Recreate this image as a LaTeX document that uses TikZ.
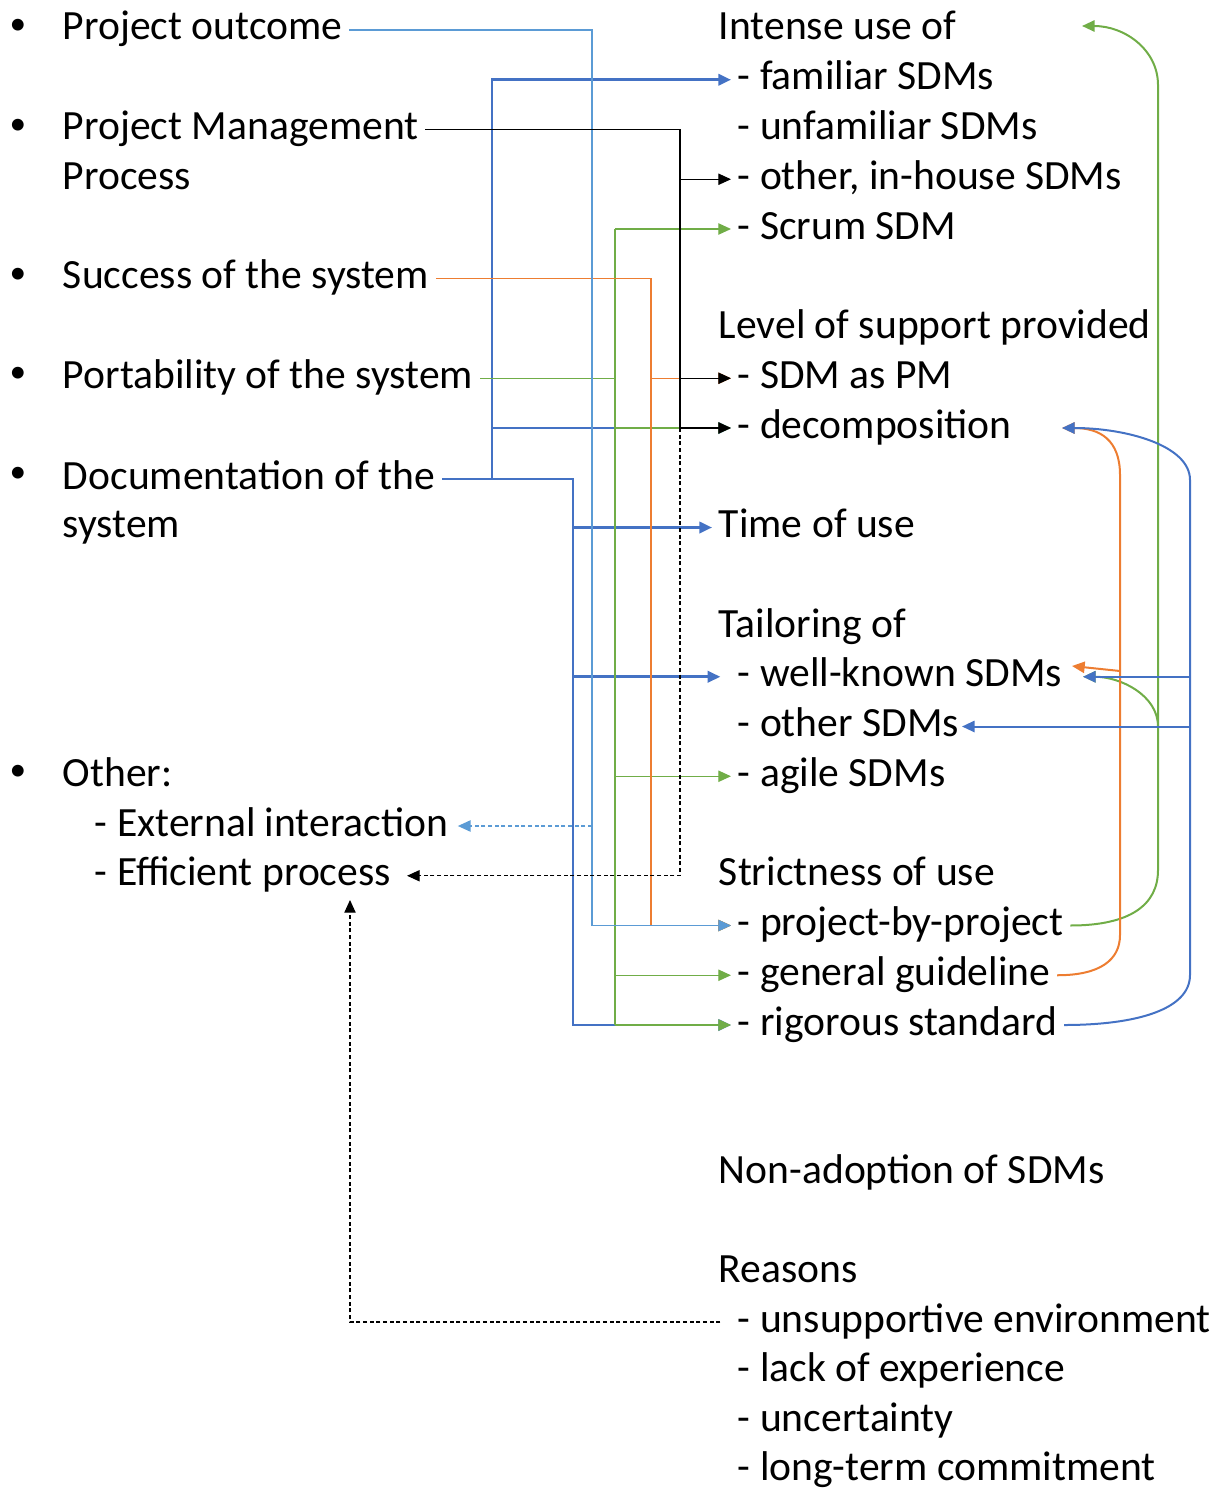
\documentclass[tikz,border=0pt]{standalone}
\usepackage{fontspec}
\setmainfont{Carlito}
\usetikzlibrary{arrows.meta}

\definecolor{cblue}{HTML}{4472C4}
\definecolor{clight}{HTML}{5B9BD5}
\definecolor{corange}{HTML}{ED7D31}
\definecolor{cgreen}{HTML}{70AD47}

\tikzset{
  txt/.style={anchor=west, inner xsep=5pt, inner ysep=0pt, text height=15pt, text depth=0pt},
  bulletmark/.style={anchor=center, inner sep=0pt, scale=0.8},
  tip/.style={-{Triangle[length=9.5pt,width=8.5pt]}},
  dashline/.style={dash pattern=on 3pt off 2pt},
  bluethick/.style={draw=cblue, line width=2pt},
  greenthin/.style={draw=cgreen, line width=0.9pt},
  orangethin/.style={draw=corange, line width=0.9pt},
  lightthin/.style={draw=clight, line width=0.9pt},
  blackthin/.style={draw=black, line width=0.8pt},
  blueright/.style={draw=cblue, line width=1.5pt},
  greenright/.style={draw=cgreen, line width=1.5pt},
  orangeright/.style={draw=corange, line width=1.5pt},
}

\begin{document}
\begin{tikzpicture}[x=0.75pt,y=0.75pt,yscale=-1,xscale=1,font=\fontsize{31.2pt}{37pt}\selectfont]
\useasboundingbox (0,0) rectangle (1222,1488);

% Bullets
\node[bulletmark] (bl1) at (18,27) {\textbullet};
\node[bulletmark] (bl2) at (18,126.5) {\textbullet};
\node[bulletmark] (bl3) at (18,275.75) {\textbullet};
\node[bulletmark] (bl4) at (18,375.25) {\textbullet};
\node[bulletmark] (bl5) at (18,474.75) {\textbullet};
\node[bulletmark] (bl6) at (18,773.25) {\textbullet};

% Text Node, left column
\node[txt] (po) at (56,30) {Project outcome};
\node[txt] (pm) at (56,129.5) {Project Management};
\node[txt] (pmb) at (56,179.25) {Process};
\node[txt] (suc) at (56,278.75) {Success of the system};
\node[txt] (port) at (56,378.25) {Portability of the system};
\node[txt] (doc) at (56,479) {Documentation of the};
\node[txt] (docb) at (56,527.5) {system};
\node[txt] (oth) at (56,776.25) {Other:};
\node[txt] (ext) at (88,826) {- External interaction};
\node[txt] (eff) at (88,875.75) {- Efficient process};

% Text Node, right column
\node[txt] (int) at (712,30) {Intense use of};
\node[txt] (fam) at (731,79.75) {- familiar SDMs};
\node[txt] (unf) at (731,129.5) {- unfamiliar SDMs};
\node[txt] (inh) at (731,179.25) {- other, in-house SDMs};
\node[txt] (scr) at (731,229) {- Scrum SDM};
\node[txt] (lev) at (712,328.5) {Level of support provided};
\node[txt] (pmg) at (731,378.25) {- SDM as PM};
\node[txt] (dec) at (731,428) {- decomposition};
\node[txt] (tim) at (712,527.5) {Time of use};
\node[txt] (tai) at (712,627) {Tailoring of};
\node[txt] (wkn) at (731,676.75) {- well-known SDMs};
\node[txt] (osd) at (731,726.5) {- other SDMs};
\node[txt] (agi) at (731,776.25) {- agile SDMs};
\node[txt] (stri) at (712,875.75) {Strictness of use};
\node[txt] (pbp) at (731,925.5) {- project-by-project};
\node[txt] (gen) at (731,975.25) {- general guideline};
\node[txt] (rig) at (731,1025) {- rigorous standard};
\node[txt] (non) at (712,1173.5) {Non-adoption of SDMs};
\node[txt] (rea) at (712,1272.5) {Reasons};
\node[txt] (uns) at (731,1322) {- unsupportive environment};
\node[txt] (lac) at (731,1371.5) {- lack of experience};
\node[txt] (unc) at (731,1421) {- uncertainty};
\node[txt] (lon) at (731,1470) {- long-term commitment};

% bus lines and arrow ends
\coordinate (xb1) at (492,0);
\coordinate (xb2) at (573,0);
\coordinate (xlb) at (592,0);
\coordinate (xg) at (615,0);
\coordinate (xo) at (651,0);
\coordinate (xk) at (680,0);
\coordinate (xor) at (1120,0);
\coordinate (xgr) at (1158,0);
\coordinate (xbr) at (1190,0);
\coordinate (tipInt) at (1082,26);
\coordinate (tipDec) at (1062,428);
\coordinate (tipWk) at (1083,676.75);
\coordinate (tipWkO) at (1072,666);
\coordinate (tipOsd) at (962,726.5);
\coordinate (tipEff) at (350,900);

% Documentation of the system
\draw[bluethick,tip] (doc.east) -| (xb2 |- rig.west) -- (rig.west);
\draw[bluethick,tip] (xb1 |- doc.east) |- (fam.west);
\draw[bluethick,tip] (xb1 |- dec.west) -- (dec.west);
\draw[bluethick,tip] (xb2 |- tim.west) -- (tim.west);
\draw[bluethick,tip] (xb2 |- wkn.west) -- ([xshift=-8pt]wkn.west);

% Portability of the system
\draw[greenthin] (port.east) -- (xg |- port.east);
\draw[greenthin] (xg |- scr.west) -- (xg |- rig.west);
\draw[greenthin,tip] (xg |- scr.west) -- (scr.west);
\draw[greenthin,tip] (xg |- dec.west) -- (dec.west);
\draw[greenthin,tip] (xg |- agi.west) -- (agi.west);
\draw[greenthin,tip] (xg |- pbp.west) -- (pbp.west);
\draw[greenthin,tip] (xg |- gen.west) -- (gen.west);
\draw[greenthin,tip] (xg |- rig.west) -- (rig.west);

% Success of the system
\draw[orangethin,tip] (suc.east) -| (xo |- pbp.west) -- (pbp.west);
\draw[orangethin,tip] (xo |- pmg.west) -- (pmg.west);

% Project outcome
\draw[lightthin,tip] (po.east) -| (xlb |- pbp.west) -- (pbp.west);
\draw[lightthin,dashline,tip] (xlb |- ext.east) -- ([xshift=2pt]ext.east);

% Project Management Process
\draw[blackthin] (pm.east) -| (xk |- dec.west);
\draw[blackthin,tip] (xk |- inh.west) -- (inh.west);
\draw[blackthin,tip] (xk |- pmg.west) -- (pmg.west);
\draw[blackthin,tip] (xk |- dec.west) -- (dec.west);
\draw[blackthin,dashline,tip] (xk |- dec.west) |- ([xshift=7pt]eff.east);

% Reasons
\draw[blackthin,dashline,tip] ([xshift=-8pt]uns.west) -| (tipEff);

% Strictness of use, fed back
\draw[greenright,tip] (pbp.east) .. controls (1130,925.5) and (1158,905) .. (1158,870) -- (1158,85) .. controls (1158,50) and (1125,26) .. (tipInt);
\draw[greenright,tip] (xgr |- osd.east) .. controls (1158,695) and (1120,676.75) .. (tipWk);
\draw[orangeright,tip] (gen.east) .. controls (1100,975.25) and (1120,960) .. (1120,935) -- (1120,475) .. controls (1120,440) and (1100,428) .. (tipDec);
\draw[orangeright,tip] ([yshift=3.75pt]xor |- tipWkO) -- (tipWkO);
\draw[blueright,tip] (rig.east) .. controls (1135,1025) and (1190,1010) .. (1190,975) -- (1190,480) .. controls (1190,445) and (1125,428) .. (tipDec);
\draw[blueright,tip] (xbr |- wkn.east) -- (tipWk);
\draw[blueright,tip] (xbr |- osd.east) -- (tipOsd);

\end{tikzpicture}
\end{document}
